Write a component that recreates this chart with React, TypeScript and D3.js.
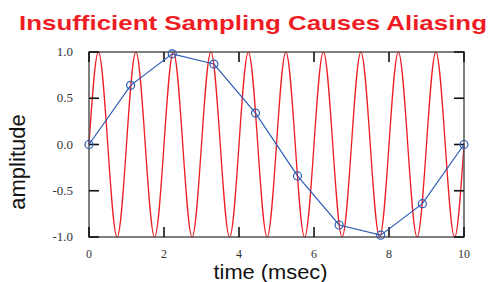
import React, { useEffect, useRef } from 'react';
import * as d3 from 'd3';

// red signal: 1 kHz sine, read at every quarter period (0.25 msec)
const signalStep = 0.25;
const signalValues = [
  0, 1, 0, -1, 0, 1, 0, -1, 0, 1, 0, -1, 0, 1, 0, -1, 0, 1, 0, -1,
  0, 1, 0, -1, 0, 1, 0, -1, 0, 1, 0, -1, 0, 1, 0, -1, 0, 1, 0, -1, 0,
];

// blue samples (too slow -> alias)
const sampleTimes = [0, 1.11, 2.22, 3.33, 4.44, 5.56, 6.67, 7.78, 8.89, 10];
const sampleValues = [0, 0.64, 0.98, 0.87, 0.34, -0.34, -0.87, -0.98, -0.64, 0];

const xTicks = [0, 2, 4, 6, 8, 10];
const yTicks = [1.0, 0.5, 0.0, -0.5, -1.0];

const W = 494;
const H = 282;

const App: React.FC = () => {
  const ref = useRef<SVGSVGElement>(null);

  useEffect(() => {
    if (!ref.current) return;
    const svg = d3.select(ref.current);
    svg.selectAll('*').remove();

    const margin = { left: 89, right: 30, top: 52, bottom: 45 };
    const x = d3.scaleLinear().domain([0, 10]).range([margin.left, W - margin.right]);
    const y = d3.scaleLinear().domain([-1, 1]).range([H - margin.bottom, margin.top]);

    const red = '#ee1d24';
    const blue = '#2b5cb5';

    // title
    svg.append('text')
      .attr('x', 19)
      .attr('y', 30)
      .attr('font-family', 'Liberation Sans, Arial, sans-serif')
      .attr('font-weight', 'bold')
      .attr('font-size', 21)
      .attr('textLength', 468)
      .attr('lengthAdjust', 'spacingAndGlyphs')
      .attr('fill', red)
      .text('Insufficient Sampling Causes Aliasing');

    // red signal
    const signal = signalValues.map((v, i) => [i * signalStep, v] as [number, number]);
    const redLine = d3.line<[number, number]>()
      .x(d => x(d[0]))
      .y(d => y(d[1]))
      .curve(d3.curveNatural);
    svg.append('path')
      .attr('d', redLine(signal))
      .attr('fill', 'none')
      .attr('stroke', red)
      .attr('stroke-width', 1.3);

    // frame
    const [x0, x1] = x.range();
    const [y0, y1] = y.range();
    svg.append('rect')
      .attr('x', x0)
      .attr('y', y1)
      .attr('width', x1 - x0)
      .attr('height', y0 - y1)
      .attr('fill', 'none')
      .attr('stroke', '#555')
      .attr('stroke-width', 1.5);

    const tickLen = 10;
    const ticks = svg.append('g').attr('stroke', '#111').attr('stroke-width', 1.6);
    xTicks.forEach(t => {
      ticks.append('line').attr('x1', x(t)).attr('x2', x(t)).attr('y1', y0).attr('y2', y0 - tickLen);
      ticks.append('line').attr('x1', x(t)).attr('x2', x(t)).attr('y1', y1).attr('y2', y1 + tickLen);
    });
    yTicks.forEach(t => {
      ticks.append('line').attr('x1', x0).attr('x2', x0 + tickLen).attr('y1', y(t)).attr('y2', y(t));
      ticks.append('line').attr('x1', x1).attr('x2', x1 - tickLen).attr('y1', y(t)).attr('y2', y(t));
    });

    // tick labels
    svg.append('g')
      .selectAll('text')
      .data(xTicks)
      .enter()
      .append('text')
      .attr('x', d => x(d))
      .attr('y', y0 + 21)
      .attr('text-anchor', 'middle')
      .attr('font-family', 'Liberation Serif, Times New Roman, serif')
      .attr('font-size', 12)
      .attr('fill', '#333')
      .text(d => String(d));

    svg.append('g')
      .selectAll('text')
      .data(yTicks)
      .enter()
      .append('text')
      .attr('x', x0 - 16)
      .attr('y', d => y(d) + 4)
      .attr('text-anchor', 'end')
      .attr('font-family', 'Liberation Serif, Times New Roman, serif')
      .attr('font-size', 13)
      .attr('fill', '#333')
      .text(d => d.toFixed(1));

    // axis titles
    svg.append('text')
      .attr('x', (x0 + x1) / 2 - 6)
      .attr('y', 279)
      .attr('text-anchor', 'middle')
      .attr('font-family', 'Liberation Sans, Arial, sans-serif')
      .attr('font-size', 20)
      .attr('textLength', 114)
      .attr('lengthAdjust', 'spacingAndGlyphs')
      .attr('fill', '#111')
      .text('time (msec)');

    svg.append('text')
      .attr('transform', `translate(25, ${162}) rotate(-90)`)
      .attr('text-anchor', 'middle')
      .attr('font-family', 'Liberation Sans, Arial, sans-serif')
      .attr('font-size', 22)
      .attr('fill', '#111')
      .text('amplitude');

    // blue samples
    const samples = sampleTimes.map((t, i) => [t, sampleValues[i]] as [number, number]);
    const blueLine = d3.line<[number, number]>()
      .x(d => x(d[0]))
      .y(d => y(d[1]));
    svg.append('path')
      .attr('d', blueLine(samples))
      .attr('fill', 'none')
      .attr('stroke', blue)
      .attr('stroke-width', 1.2);

    svg.append('g')
      .selectAll('circle')
      .data(samples)
      .enter()
      .append('circle')
      .attr('cx', d => x(d[0]))
      .attr('cy', d => y(d[1]))
      .attr('r', 4)
      .attr('fill', 'none')
      .attr('stroke', blue)
      .attr('stroke-width', 1.2);
  }, []);

  return (
    <svg
      ref={ref}
      width={W}
      height={H}
      style={{ position: 'absolute', left: 0, top: 0, background: '#fff' }}
    />
  );
};

export default App;
